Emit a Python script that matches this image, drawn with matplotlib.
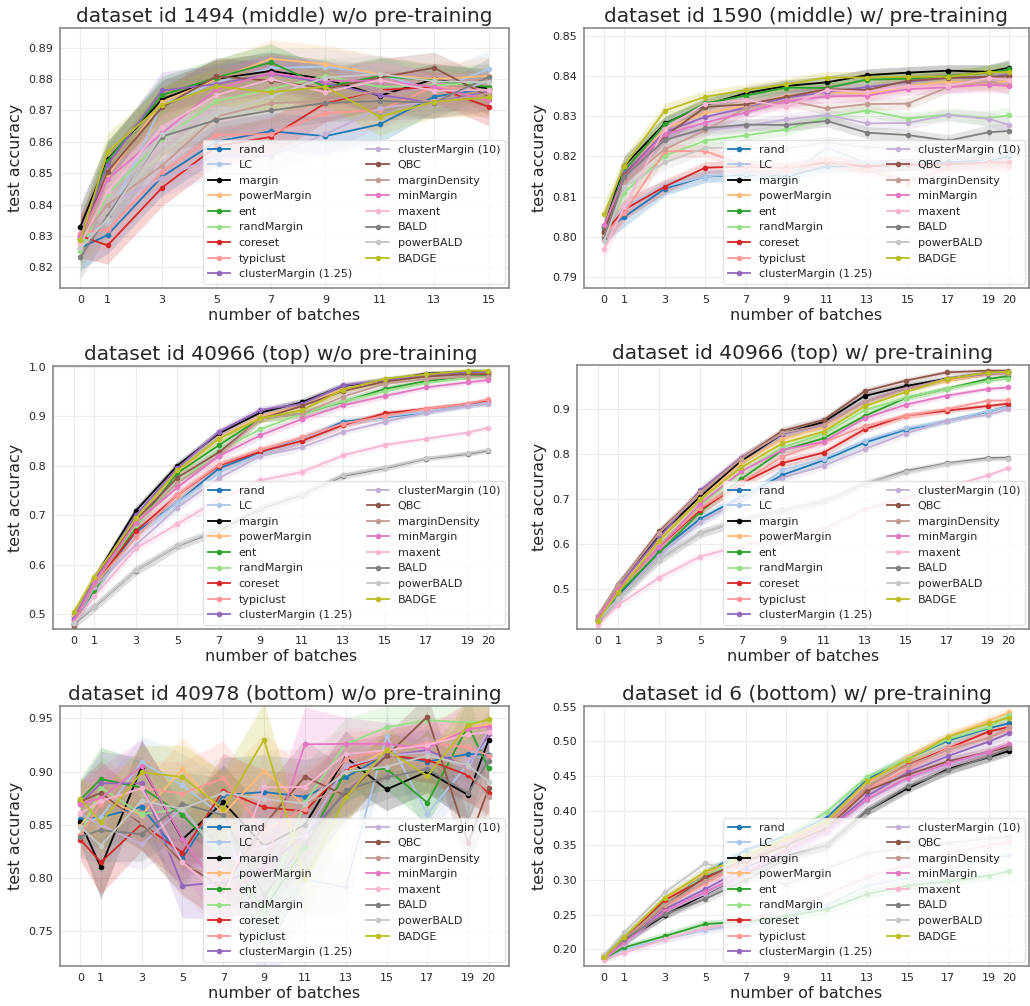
import numpy as np
import matplotlib
matplotlib.use("Agg")
import matplotlib.pyplot as plt

methods = ["rand", "LC", "margin", "powerMargin", "ent", "randMargin", "coreset",
           "typiclust", "clusterMargin (1.25)", "clusterMargin (10)", "QBC",
           "marginDensity", "minMargin", "maxent", "BALD", "powerBALD", "BADGE"]
colors = ["#1f77b4", "#aec7e8", "black", "#ffbb78", "#2ca02c", "#98df8a", "#d62728",
          "#ff9896", "#9467bd", "#c5b0d5", "#8c564b", "#c49c94", "#e377c2", "#f7b6d2",
          "#7f7f7f", "#c7c7c7", "#bcbd22"]

batches_short = [0, 1, 3, 5, 7, 9, 11, 13, 15]
batches_long = [0, 1, 3, 5, 7, 9, 11, 13, 15, 17, 19, 20]

# one row per method, same order as `methods`
acc_1494 = [
    [0.8262, 0.8303, 0.8489, 0.8601, 0.8634, 0.8618, 0.8656, 0.8744, 0.8770],
    [0.828, 0.835, 0.872, 0.879, 0.8835, 0.884, 0.8815, 0.8765, 0.8832],
    [0.833, 0.8544, 0.8736, 0.8801, 0.8826, 0.880, 0.8747, 0.880, 0.8770],
    [0.829, 0.8492, 0.8727, 0.880, 0.8865, 0.8848, 0.8815, 0.880, 0.881],
    [0.829, 0.854, 0.8749, 0.8805, 0.8853, 0.8775, 0.881, 0.8795, 0.8775],
    [0.8252, 0.8433, 0.8608, 0.873, 0.8768, 0.881, 0.8775, 0.878, 0.879],
    [0.830, 0.827, 0.8454, 0.8586, 0.8616, 0.8723, 0.8765, 0.8775, 0.8712],
    [0.831, 0.832, 0.8505, 0.8622, 0.8625, 0.8692, 0.8701, 0.8775, 0.8765],
    [0.830, 0.8527, 0.8764, 0.8784, 0.8817, 0.8788, 0.8749, 0.8726, 0.876],
    [0.829, 0.840, 0.8484, 0.8555, 0.8556, 0.8624, 0.8707, 0.873, 0.8795],
    [0.829, 0.8505, 0.871, 0.8809, 0.8795, 0.8769, 0.8805, 0.8836, 0.8745],
    [0.829, 0.840, 0.8524, 0.8681, 0.8723, 0.873, 0.8765, 0.8725, 0.8755],
    [0.830, 0.8481, 0.8627, 0.8768, 0.882, 0.8795, 0.8795, 0.8775, 0.8733],
    [0.8273, 0.8443, 0.8647, 0.8749, 0.880, 0.8758, 0.8797, 0.8763, 0.8765],
    [0.8232, 0.8365, 0.8617, 0.867, 0.870, 0.8724, 0.873, 0.8725, 0.8807],
    [0.826, 0.8355, 0.8625, 0.869, 0.8745, 0.8805, 0.8816, 0.8793, 0.879],
    [0.8287, 0.8569, 0.8718, 0.8777, 0.8758, 0.8776, 0.868, 0.8728, 0.8742],
]
spread_1494 = [0.007, 0.006, 0.006, 0.006, 0.006, 0.006, 0.006, 0.005, 0.006]

acc_1590 = [
    [0.8015, 0.805, 0.812, 0.815, 0.8155, 0.815, 0.8175, 0.8175, 0.818, 0.8185, 0.819, 0.820],
    [0.800, 0.8075, 0.8125, 0.815, 0.8158, 0.8145, 0.8222, 0.8183, 0.8185, 0.8175, 0.819, 0.8208],
    [0.8025, 0.8177, 0.8282, 0.8328, 0.8357, 0.8375, 0.8384, 0.8402, 0.8408, 0.8413, 0.841, 0.842],
    [0.8015, 0.8155, 0.827, 0.8307, 0.8327, 0.835, 0.836, 0.8355, 0.8375, 0.8386, 0.838, 0.8388],
    [0.8025, 0.8165, 0.828, 0.8332, 0.8351, 0.8371, 0.837, 0.8391, 0.8393, 0.840, 0.8408, 0.8416],
    [0.800, 0.811, 0.8202, 0.8239, 0.8252, 0.8267, 0.8297, 0.8314, 0.8294, 0.8304, 0.8295, 0.8302],
    [0.801, 0.8068, 0.8125, 0.8172, 0.8175, 0.817, 0.8185, 0.8175, 0.818, 0.818, 0.8185, 0.8185],
    [0.8005, 0.806, 0.8213, 0.8213, 0.8177, 0.8169, 0.8191, 0.8165, 0.8137, 0.817, 0.8182, 0.8173],
    [0.8015, 0.8158, 0.8261, 0.8298, 0.8321, 0.8346, 0.836, 0.8372, 0.8385, 0.8395, 0.8395, 0.8405],
    [0.800, 0.815, 0.8245, 0.8265, 0.8275, 0.8292, 0.8303, 0.8282, 0.8283, 0.8303, 0.8293, 0.8279],
    [0.8013, 0.8155, 0.825, 0.8323, 0.8329, 0.8348, 0.8367, 0.8365, 0.8388, 0.8395, 0.8398, 0.8399],
    [0.800, 0.8135, 0.8218, 0.8265, 0.832, 0.8339, 0.8319, 0.833, 0.8331, 0.8372, 0.8385, 0.8377],
    [0.803, 0.815, 0.8255, 0.8284, 0.8309, 0.8337, 0.8349, 0.8351, 0.8367, 0.8372, 0.8378, 0.8375],
    [0.7971, 0.8075, 0.8269, 0.8331, 0.834, 0.8323, 0.8365, 0.836, 0.8375, 0.8375, 0.8395, 0.839],
    [0.7995, 0.815, 0.8241, 0.827, 0.8279, 0.8278, 0.8288, 0.8259, 0.8253, 0.8239, 0.826, 0.8263],
    [0.799, 0.8125, 0.8185, 0.8221, 0.8222, 0.822, 0.8235, 0.8223, 0.822, 0.8235, 0.8218, 0.8225],
    [0.8058, 0.8177, 0.8314, 0.8348, 0.8365, 0.8379, 0.8396, 0.8396, 0.8398, 0.8398, 0.8409, 0.8409],
]
spread_1590 = [0.003, 0.0025, 0.0018, 0.0015, 0.0015, 0.0015, 0.0015, 0.0015, 0.0015, 0.0015, 0.0018, 0.002]

acc_40966_wo = [
    [0.48, 0.55, 0.665, 0.725, 0.7945, 0.826, 0.853, 0.8888, 0.8976, 0.9077, 0.922, 0.926],
    [0.48, 0.55, 0.66, 0.725, 0.785, 0.824, 0.853, 0.885, 0.899, 0.909, 0.921, 0.927],
    [0.495, 0.572, 0.709, 0.80, 0.865, 0.907, 0.928, 0.961, 0.972, 0.986, 0.99, 0.99],
    [0.495, 0.57, 0.695, 0.785, 0.855, 0.90, 0.92, 0.955, 0.97, 0.98, 0.985, 0.987],
    [0.49, 0.547, 0.677, 0.785, 0.841, 0.8955, 0.905, 0.929, 0.955, 0.971, 0.981, 0.982],
    [0.49, 0.565, 0.68, 0.765, 0.83, 0.8733, 0.905, 0.93, 0.95, 0.967, 0.977, 0.98],
    [0.48, 0.56, 0.6678, 0.74, 0.80, 0.828, 0.850, 0.882, 0.9057, 0.915, 0.925, 0.932],
    [0.48, 0.56, 0.655, 0.7406, 0.8019, 0.8329, 0.857, 0.885, 0.90, 0.915, 0.925, 0.934],
    [0.49, 0.57, 0.70, 0.795, 0.868, 0.9124, 0.925, 0.962, 0.973, 0.983, 0.988, 0.99],
    [0.48, 0.555, 0.64, 0.715, 0.7743, 0.8194, 0.8369, 0.868, 0.8881, 0.907, 0.92, 0.925],
    [0.4757, 0.565, 0.69, 0.7756, 0.8268, 0.894, 0.9205, 0.9508, 0.97, 0.98, 0.985, 0.985],
    [0.48, 0.56, 0.685, 0.765, 0.82, 0.895, 0.905, 0.9394, 0.965, 0.975, 0.98, 0.98],
    [0.485, 0.565, 0.6846, 0.756, 0.8194, 0.8612, 0.894, 0.9218, 0.9407, 0.9582, 0.9683, 0.973],
    [0.48, 0.5364, 0.6327, 0.682, 0.7318, 0.77, 0.787, 0.8208, 0.8417, 0.8544, 0.8666, 0.8767],
    [0.48, 0.5141, 0.5876, 0.6375, 0.669, 0.712, 0.741, 0.779, 0.7945, 0.814, 0.8234, 0.8302],
    [0.482, 0.515, 0.588, 0.638, 0.6718, 0.715, 0.7426, 0.781, 0.796, 0.815, 0.825, 0.832],
    [0.5034, 0.5755, 0.6934, 0.7904, 0.8538, 0.8955, 0.9117, 0.9535, 0.9757, 0.9845, 0.9919, 0.992],
]
spread_40966_wo = [0.01, 0.01, 0.01, 0.009, 0.009, 0.008, 0.008, 0.007, 0.006, 0.005, 0.005, 0.005]

acc_40966_w = [
    [0.43, 0.485, 0.5836, 0.6567, 0.705, 0.7536, 0.7861, 0.8253, 0.8542, 0.8734, 0.894, 0.906],
    [0.43, 0.48, 0.575, 0.65, 0.70, 0.765, 0.79, 0.83, 0.857, 0.873, 0.895, 0.905],
    [0.435, 0.51, 0.62, 0.7055, 0.785, 0.8453, 0.8712, 0.9288, 0.951, 0.967, 0.98, 0.983],
    [0.435, 0.50, 0.61, 0.70, 0.78, 0.8327, 0.86, 0.915, 0.945, 0.962, 0.977, 0.98],
    [0.43, 0.49, 0.5813, 0.672, 0.745, 0.8083, 0.835, 0.8845, 0.9244, 0.945, 0.9665, 0.9732],
    [0.43, 0.495, 0.60, 0.685, 0.76, 0.815, 0.845, 0.897, 0.925, 0.945, 0.962, 0.9673],
    [0.432, 0.50, 0.595, 0.676, 0.735, 0.7802, 0.8031, 0.8549, 0.8852, 0.8963, 0.9067, 0.9118],
    [0.432, 0.50, 0.597, 0.68, 0.737, 0.7943, 0.826, 0.862, 0.885, 0.90, 0.9185, 0.919],
    [0.435, 0.505, 0.615, 0.7196, 0.792, 0.845, 0.865, 0.9155, 0.945, 0.967, 0.978, 0.98],
    [0.43, 0.48, 0.575, 0.6494, 0.70, 0.748, 0.7736, 0.8113, 0.8453, 0.8741, 0.8867, 0.8993],
    [0.44, 0.51, 0.6287, 0.715, 0.79, 0.8519, 0.8756, 0.9392, 0.9629, 0.9813, 0.985, 0.985],
    [0.44, 0.51, 0.625, 0.715, 0.79, 0.847, 0.8645, 0.915, 0.9436, 0.967, 0.98, 0.98],
    [0.437, 0.50, 0.5947, 0.69, 0.7617, 0.809, 0.8275, 0.8793, 0.9096, 0.9296, 0.9444, 0.9481],
    [0.42, 0.4653, 0.5259, 0.5725, 0.5968, 0.6138, 0.6338, 0.6775, 0.7033, 0.7262, 0.7529, 0.7691],
    [0.43, 0.4786, 0.5651, 0.6242, 0.653, 0.675, 0.695, 0.7336, 0.7625, 0.7795, 0.7913, 0.792],
    [0.43, 0.4786, 0.5651, 0.6242, 0.653, 0.6745, 0.6959, 0.7336, 0.76, 0.778, 0.788, 0.79],
    [0.4298, 0.4933, 0.6079, 0.6996, 0.7706, 0.8238, 0.8497, 0.9059, 0.9377, 0.9665, 0.9806, 0.983],
]
spread_40966_w = [0.01, 0.01, 0.01, 0.01, 0.01, 0.009, 0.009, 0.008, 0.007, 0.006, 0.005, 0.005]

acc_40978 = [
    [0.855, 0.857, 0.867, 0.8186, 0.878, 0.8808, 0.8764, 0.8946, 0.9159, 0.9093, 0.9165, 0.9159],
    [0.852, 0.857, 0.9087, 0.887, 0.858, 0.727, 0.7988, 0.7913, 0.9334, 0.8602, 0.9077, 0.93],
    [0.8523, 0.8101, 0.9046, 0.8364, 0.8711, 0.83, 0.85, 0.9134, 0.8833, 0.90, 0.878, 0.9297],
    [0.8492, 0.8758, 0.8592, 0.9024, 0.86, 0.9009, 0.868, 0.90, 0.92, 0.925, 0.94, 0.945],
    [0.8736, 0.893, 0.885, 0.8592, 0.82, 0.77, 0.8295, 0.90, 0.9027, 0.8708, 0.9431, 0.903],
    [0.84, 0.885, 0.86, 0.865, 0.82, 0.7685, 0.8711, 0.9259, 0.9415, 0.9484, 0.946, 0.948],
    [0.8361, 0.8148, 0.8508, 0.8239, 0.8821, 0.8664, 0.8627, 0.9027, 0.9153, 0.9109, 0.8965, 0.8796],
    [0.84, 0.87, 0.885, 0.8793, 0.8937, 0.845, 0.865, 0.912, 0.92, 0.9265, 0.9231, 0.915],
    [0.87, 0.889, 0.889, 0.7926, 0.7967, 0.81, 0.84, 0.88, 0.915, 0.92, 0.905, 0.935],
    [0.86, 0.85, 0.8317, 0.8655, 0.815, 0.8292, 0.8398, 0.905, 0.915, 0.918, 0.9024, 0.94],
    [0.872, 0.880, 0.8508, 0.815, 0.79, 0.85, 0.8952, 0.8774, 0.915, 0.9516, 0.8326, 0.8843],
    [0.87, 0.875, 0.853, 0.812, 0.80, 0.84, 0.87, 0.885, 0.91, 0.935, 0.90, 0.876],
    [0.87, 0.875, 0.905, 0.837, 0.783, 0.8085, 0.9256, 0.926, 0.926, 0.922, 0.94, 0.9422],
    [0.8608, 0.8724, 0.8843, 0.8151, 0.7807, 0.8852, 0.8855, 0.9165, 0.92, 0.925, 0.935, 0.937],
    [0.8389, 0.8451, 0.8411, 0.8696, 0.8592, 0.7835, 0.8326, 0.8827, 0.8946, 0.9024, 0.88, 0.9102],
    [0.848, 0.8304, 0.8727, 0.865, 0.88, 0.8742, 0.87, 0.8999, 0.9046, 0.915, 0.906, 0.8905],
    [0.8742, 0.8523, 0.8993, 0.8949, 0.865, 0.93, 0.7991, 0.8758, 0.9206, 0.8959, 0.9437, 0.949],
]
spread_40978 = [0.02, 0.03, 0.025, 0.03, 0.035, 0.035, 0.035, 0.025, 0.02, 0.02, 0.025, 0.02]

acc_6 = [
    [0.19, 0.218, 0.27, 0.31, 0.3433, 0.3635, 0.3899, 0.445, 0.475, 0.501, 0.5188, 0.526],
    [0.187, 0.20, 0.215, 0.2279, 0.236, 0.25, 0.2639, 0.2913, 0.3034, 0.315, 0.33, 0.3356],
    [0.187, 0.212, 0.2495, 0.2793, 0.31, 0.335, 0.35, 0.40, 0.4322, 0.46, 0.4769, 0.486],
    [0.19, 0.22, 0.272, 0.31, 0.335, 0.36, 0.385, 0.44, 0.478, 0.507, 0.5298, 0.5418],
    [0.187, 0.2029, 0.2192, 0.2365, 0.24, 0.248, 0.2577, 0.2798, 0.2918, 0.2981, 0.3062, 0.3125],
    [0.19, 0.22, 0.27, 0.305, 0.335, 0.362, 0.3986, 0.449, 0.475, 0.503, 0.52, 0.538],
    [0.188, 0.217, 0.2712, 0.3024, 0.33, 0.355, 0.38, 0.4346, 0.466, 0.4899, 0.514, 0.5207],
    [0.188, 0.215, 0.262, 0.295, 0.325, 0.35, 0.378, 0.43, 0.46, 0.49, 0.505, 0.517],
    [0.188, 0.21, 0.258, 0.287, 0.318, 0.342, 0.372, 0.4212, 0.4553, 0.4788, 0.4995, 0.5115],
    [0.187, 0.208, 0.255, 0.28, 0.31, 0.338, 0.368, 0.415, 0.445, 0.465, 0.485, 0.495],
    [0.188, 0.215, 0.263, 0.3048, 0.327, 0.35, 0.375, 0.4288, 0.4519, 0.4712, 0.485, 0.4923],
    [0.188, 0.215, 0.2639, 0.298, 0.33, 0.355, 0.38, 0.435, 0.465, 0.4875, 0.505, 0.52],
    [0.186, 0.21, 0.255, 0.2832, 0.31, 0.3418, 0.37, 0.4168, 0.4476, 0.4683, 0.4851, 0.4962],
    [0.185, 0.1952, 0.215, 0.2303, 0.24, 0.2591, 0.2798, 0.3038, 0.3216, 0.3394, 0.3495, 0.3548],
    [0.192, 0.215, 0.2505, 0.2726, 0.30, 0.33, 0.3505, 0.40, 0.435, 0.458, 0.478, 0.49],
    [0.192, 0.225, 0.2822, 0.324, 0.3087, 0.2938, 0.317, 0.3385, 0.3466, 0.3538, 0.36, 0.3625],
    [0.189, 0.218, 0.2745, 0.312, 0.335, 0.36, 0.385, 0.4428, 0.4731, 0.5067, 0.526, 0.5341],
]
spread_6 = [0.005, 0.005, 0.006, 0.006, 0.006, 0.006, 0.007, 0.007, 0.007, 0.007, 0.007, 0.007]

titles = ["dataset id 1494 (middle) w/o pre-training",
          "dataset id 1590 (middle) w/ pre-training",
          "dataset id 40966 (top) w/o pre-training",
          "dataset id 40966 (top) w/ pre-training",
          "dataset id 40978 (bottom) w/o pre-training",
          "dataset id 6 (bottom) w/ pre-training"]

panels = [
    (batches_short, acc_1494, spread_1494, (0.8134, 0.8963), np.arange(0.82, 0.8901, 0.01)),
    (batches_long, acc_1590, spread_1590, (0.7873, 0.8519), np.arange(0.79, 0.8501, 0.01)),
    (batches_long, acc_40966_wo, spread_40966_wo, (0.4697, 1.0014), np.arange(0.5, 1.001, 0.1)),
    (batches_long, acc_40966_w, spread_40966_w, (0.412, 0.9976), np.arange(0.5, 0.901, 0.1)),
    (batches_long, acc_40978, spread_40978, (0.7174, 0.9616), np.arange(0.75, 0.951, 0.05)),
    (batches_long, acc_6, spread_6, (0.176, 0.551), np.arange(0.20, 0.551, 0.05)),
]

# axes boxes in pixels: left, top, right, bottom
boxes = [(60, 28, 509, 288), (584, 28, 1029, 288),
         (53, 366, 509, 629), (577, 365, 1029, 629),
         (60, 706, 509, 966), (584, 706, 1029, 966)]

W, H = 1030, 1006
text_color = "#262626"
fig = plt.figure(figsize=(W / 100, H / 100), dpi=100)

for (x, acc, spread, ylim, yticks), title, (l, t, r, b) in zip(panels, titles, boxes):
    ax = fig.add_axes([l / W, 1 - b / H, (r - l) / W, (b - t) / H])
    x = np.array(x)
    s = np.array(spread)
    for name, c, vals in zip(methods, colors, acc):
        y = np.array(vals)
        ax.fill_between(x, y - s, y + s, color=c, alpha=0.2, linewidth=0)
        ax.plot(x, y, color=c, marker="o", markersize=3, linewidth=1.3, label=name)
    ax.set_xticks(x)
    ax.set_yticks(yticks)
    ax.set_ylim(*ylim)
    ax.grid(True, color="#ebebeb", linewidth=0.8)
    ax.set_axisbelow(True)
    ax.tick_params(length=0, labelsize=8, colors=text_color, pad=5)
    for sp in ax.spines.values():
        sp.set_color("#808080")
        sp.set_linewidth(1.1)
    ax.set_title(title, fontsize=14.5, color=text_color, pad=4)
    ax.set_xlabel("number of batches", fontsize=11.5, color=text_color, labelpad=2)
    ax.set_ylabel("test accuracy", fontsize=11.5, color=text_color, labelpad=4)
    leg = ax.legend(ncol=2, loc="lower right", fontsize=8, framealpha=0.8,
                    borderaxespad=0.4, handlelength=2.0, columnspacing=1.3)
    leg.get_frame().set_edgecolor("#dddddd")
    for txt in leg.get_texts():
        txt.set_color(text_color)

fig.savefig("out.png", dpi=100)
